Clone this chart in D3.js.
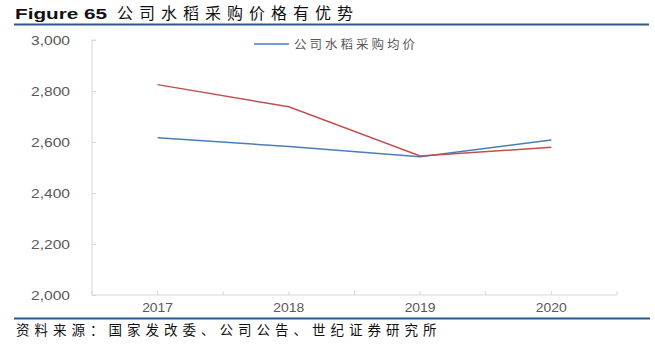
<!DOCTYPE html>
<html><head><meta charset="utf-8">
<script src="https://cdn.jsdelivr.net/npm/d3@7"></script>
<style>body{margin:0;background:#fff}svg{display:block}</style>
</head><body>
<svg id="c" width="655" height="345"></svg>
<script>
const categories = ["2017","2018","2019","2020"];
const seriesBlue = [2617, 2582, 2542, 2608];
const seriesRed = [2825, 2738, 2545, 2579];
const yTicks = [2000, 2200, 2400, 2600, 2800, 3000];
const legendLabel = "公司水稻采购均价";
const titleEn = "Figure 65";
const titleCn = "公司水稻采购价格有优势";
const sourceText = "资料来源：国家发改委、公司公告、世纪证券研究所";

(function(){
const svg = d3.select("#c");
const pl = 92, pr = 617, pt = 40, pb = 295;
const x = d3.scaleBand().domain(categories).range([pl, pr]);
const y = d3.scaleLinear().domain([2000, 3000]).range([pb, pt]);
const cjk = "'Noto Sans CJK SC', sans-serif";
const lat = "Arial, 'Liberation Sans', sans-serif";

// title
svg.append("text").attr("x", 15).attr("y", 19).attr("font-family", lat)
  .attr("font-weight", "bold").attr("font-size", 15).attr("fill", "#111")
  .attr("textLength", 92).attr("lengthAdjust", "spacingAndGlyphs").text(titleEn);
svg.append("text").attr("x", 117).attr("y", 19).attr("font-family", cjk)
  .attr("font-size", 16).attr("letter-spacing", 6).attr("fill", "#111").text(titleCn);
svg.append("line").attr("x1", 14).attr("x2", 649).attr("y1", 24.5).attr("y2", 24.5)
  .attr("stroke", "#2e5a87").attr("stroke-width", 2);

// axes
const ya = svg.append("g").attr("transform", `translate(${pl},0)`)
  .call(d3.axisLeft(y).tickValues(yTicks).tickSize(-4).tickFormat(d3.format(",")));
ya.select(".domain").attr("stroke", "#d9d9d9").attr("d", `M4,${pt}H0V${pb}`);
ya.selectAll(".tick line").attr("stroke", "#d9d9d9");
ya.selectAll(".tick text").attr("x", -22).attr("font-family", lat).attr("font-size", 12.5)
  .attr("textLength", 39).attr("lengthAdjust", "spacingAndGlyphs")
  .attr("fill", "#595959").attr("dy", "0.35em");

const xa = svg.append("g").attr("transform", `translate(0,${pb})`)
  .call(d3.axisBottom(x).tickSize(0));
xa.select(".domain").attr("stroke", "#d9d9d9").attr("d", `M${pl},0H${pr}`);
xa.selectAll(".tick text").attr("y", 17).attr("dy", 0).attr("font-family", lat)
  .attr("font-size", 12).attr("textLength", 31).attr("lengthAdjust", "spacingAndGlyphs")
  .attr("fill", "#595959");
const tickPos = [];
categories.forEach(c => { tickPos.push(x(c)); tickPos.push(x(c) + x.bandwidth()/2); });
tickPos.push(pr);
xa.selectAll("line.tk").data(tickPos).enter().append("line").attr("class","tk")
  .attr("x1", d => d).attr("x2", d => d).attr("y1", 0).attr("y2", -4).attr("stroke", "#d9d9d9");

// lines
const line = d3.line().x((d, i) => x(categories[i]) + x.bandwidth()/2).y(d => y(d));
svg.append("path").datum(seriesBlue).attr("d", line).attr("fill", "none")
  .attr("stroke", "#4a7ebb").attr("stroke-width", 1.5);
svg.append("path").datum(seriesRed).attr("d", line).attr("fill", "none")
  .attr("stroke", "#c0504d").attr("stroke-width", 1.5);

// legend
svg.append("line").attr("x1", 254).attr("x2", 289).attr("y1", 44).attr("y2", 44)
  .attr("stroke", "#4a7ebb").attr("stroke-width", 1.5);
svg.append("text").attr("x", 294).attr("y", 48.5).attr("font-family", cjk)
  .attr("font-size", 12.5).attr("letter-spacing", 3).attr("fill", "#595959").text(legendLabel);

// source
svg.append("line").attr("x1", 14).attr("x2", 650).attr("y1", 318.5).attr("y2", 318.5)
  .attr("stroke", "#2e5a87").attr("stroke-width", 2);
svg.append("text").attr("x", 16).attr("y", 335).attr("font-family", cjk)
  .attr("font-size", 13.5).attr("letter-spacing", 5).attr("fill", "#111").text(sourceText);
})();
</script>
</body></html>
